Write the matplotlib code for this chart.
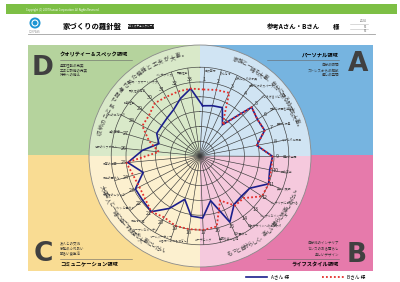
import numpy as np
import matplotlib.pyplot as plt
from matplotlib.patches import Rectangle, Wedge, Circle

plt.rcParams['font.family'] = ['Noto Sans CJK JP', 'DejaVu Sans']

# 33 items: A 1-9, B 10-17, C 18-25, D 26-33
item_no = list(range(1, 34))
item_names = [
    '自然素材', 'みんなで', 'お気に入りの家具', '自分だけのスペース', 'くつろげるリビング',
    '音楽と映画を楽しむ', '睡眠と休息', 'ゆったりお風呂', '癒しの空間',
    '光の演出', '美しい照明', 'インテリアにこだわる', 'シンプルなインテリア',
    '和風デザインへのこだわり', '和の暮らし', '季節を楽しむ庭', 'ガーデニング',
    'お客様へのおもてなし', 'ホームパーティー', 'オープンなキッチン', '家族で料理',
    'ペットと暮らす', '子育てのしやすさ', '家族の団らん', '家事の効率',
    '将来のリフォーム', '温熱環境', '収納のこだわり', '防犯性能',
    '耐久性の高さ', '省エネ・スマートハウス', 'メンテナンス', '耐震性能',
]
score_a = [3.4, 3.5, 3.6, 2.6, 4.8, 4.6, 4.7, 3.9, 4.9,
           4.8, 5.0, 4.0, 3.9, 4.0, 4.9, 3.1, 4.2,
           4.1, 3.1, 4.1, 5.0, 4.9, 4.9, 4.0, 4.9,
           3.9, 2.9, 3.3, 3.3, 3.4, 3.6, 4.1, 4.6]
score_b = [4.5, 4.6, 4.7, 2.6, 4.8, 4.6, 4.7, 3.9, 4.9,
           4.9, 5.0, 5.0, 4.1, 4.1, 3.3, 4.9, 5.0,
           5.0, 5.0, 4.8, 5.0, 4.7, 4.6, 4.7, 5.0,
           2.8, 3.6, 4.4, 4.4, 4.7, 4.6, 4.6, 4.6]
series_names = ['Aさん 様', 'Bさん 様']

zones = ['D', 'A', 'C', 'B']
zone_titles = ['クオリティー＆スペック領域', 'パーソナル領域', 'コミュニケーション領域', 'ライフスタイル領域']
zone_items = [['基本性能の充実', '工法と設備の充実', '将来への備え'],
              ['自分の時間', 'ストレスからの解放', '癒しの空間'],
              ['友人との交流', '家族のふれあい', '明るい食生活'],
              ['自分流のインテリア', 'センスのある暮らし', '楽しいデザイン']]
arc_texts = ['収納のことまで配慮された機能と工夫が大事。',
             '家族と一緒も大事、自分に戻る時間も大事。',
             '大切な人と一緒に過ごす時間を大事にしたい。',
             'もっと自分らしく、楽しい暮らしを楽しみたい。']

W, H = 400, 282
fig = plt.figure(figsize=(W / 100, H / 100), dpi=100)
bg = fig.add_axes([0, 0, 1, 1])
bg.set_xlim(0, W)
bg.set_ylim(H, 0)
bg.axis('off')

# header
bg.add_patch(Rectangle((6, 4), 391, 10, color='#7dbf45', lw=0))
bg.text(26, 9.5, 'Copyright (C) 2007 Kanuai Corporation. All Rights Reserved.',
        fontsize=1.9, color='white', va='center')
bg.add_patch(Circle((35, 23), 5.5, color='#1d95d3', lw=0))
bg.add_patch(Circle((35, 23), 3, fill=False, ec='white', lw=0.8))
bg.text(35, 32, 'COMPASS', fontsize=1.8, color='#888', ha='center', va='center')
bg.text(63, 26.5, '家づくりの羅針盤', fontsize=5.3, fontweight='bold', va='center')
bg.add_patch(Rectangle((128, 23.5), 26, 5.5, color='#222', lw=0))
bg.text(141, 26.3, '家づくりチェックシート', fontsize=1.9, color='white', ha='center', va='center')
bg.plot([28, 375], [33.5, 33.5], color='#a0a0a0', lw=0.6)
bg.text(320, 27, '参考Aさん・Bさん', fontsize=4.6, fontweight='bold', ha='right', va='center')
bg.text(333, 27, '様', fontsize=4.6, fontweight='bold', va='center')
for y, s in zip([21.5, 26.5, 31.5], ['2024', '05', '05']):
    bg.text(367, y, s, fontsize=2.2, color='#666', ha='right', va='center')
    bg.plot([350, 368], [y + 2, y + 2], color='#bbb', lw=0.4)

# quadrant panels
cx, cy = 200, 156
panel = {'D': (28, 45, 172, 110, '#b5d39d', '#d9e9c9'),
         'A': (200, 45, 173, 110, '#76b4e0', '#d0e4f3'),
         'C': (28, 155, 172, 116, '#f9dc93', '#fcf0cf'),
         'B': (200, 155, 173, 116, '#e67aab', '#f5c9dd')}
wedge_ang = {'D': (180, 270), 'A': (270, 360), 'C': (90, 180), 'B': (0, 90)}
for z in zones:
    x, y, w, h, c, light = panel[z]
    bg.add_patch(Rectangle((x, y), w, h, color=c, lw=0))
for z in zones:
    light = panel[z][5]
    a1, a2 = wedge_ang[z]
    bg.add_patch(Wedge((cx, cy), 111, a1, a2, color=light, lw=0))
bg.add_patch(Circle((cx, cy), 111, fill=False, ec='#8a8a8a', lw=0.6))

# zone letters and captions
letter_pos = {'D': (43, 68), 'A': (358, 64), 'C': (43, 254), 'B': (357, 255)}
for i, z in enumerate(zones):
    lx, ly = letter_pos[z]
    bg.text(lx, ly, z, fontsize=19, fontweight='bold', color='#404040',
            ha='center', va='center', family='DejaVu Sans')
    left = z in ('D', 'C')
    tx = 60 if left else 339
    ha = 'left' if left else 'right'
    top = z in ('D', 'A')
    if top:
        bg.text(tx, 55, zone_titles[i], fontsize=3.8, fontweight='bold', ha=ha, va='center')
        bg.plot([tx, tx + 72] if left else [tx - 72, tx], [60, 60], color='#666', lw=0.4)
        for j, s in enumerate(zone_items[i]):
            bg.text(tx, 65 + 5 * j, s, fontsize=2.5, color='#333', ha=ha, va='center')
    else:
        for j, s in enumerate(zone_items[i]):
            bg.text(tx, 243 + 5.5 * j, s, fontsize=2.5, color='#333', ha=ha, va='center')
        bg.plot([tx, tx + 72] if left else [tx - 72, tx], [259, 259], color='#666', lw=0.4)
        bg.text(tx, 264, zone_titles[i], fontsize=3.8, fontweight='bold', ha=ha, va='center')

# radar
unit = 14.8
rmax = 6
rad = rmax * unit
pax = fig.add_axes([(cx - rad) / W, (H - cy - rad) / H, 2 * rad / W, 2 * rad / H],
                   projection='polar')
pax.set_facecolor('none')
pax.set_theta_zero_location('N')
pax.set_theta_direction(-1)
theta = np.deg2rad(3 + (np.array(item_no) - 1) * 360 / len(item_no))
pax.set_xticks(theta)
pax.set_xticklabels([])
pax.set_yticks([1, 2, 3, 4, 5])
pax.set_yticklabels([])
pax.set_ylim(0, rmax)
pax.grid(color='#3a3a3a', lw=0.45)
pax.spines['polar'].set_color('#3a3a3a')
pax.spines['polar'].set_linewidth(0.45)
pax.tick_params(length=0)

th = np.append(theta, theta[0])
la, = pax.plot(th, score_a + score_a[:1], color='#1b1f8c', lw=1.2, label=series_names[0])
lb, = pax.plot(th, score_b + score_b[:1], color='#e3302c', lw=1.3,
               linestyle=(0, (1, 1.2)), label=series_names[1])

for t, k, name in zip(theta, item_no, item_names):
    pax.text(t, 5.2, str(k), fontsize=3.9, color='#333', ha='center', va='center')
    s, c = np.sin(t), np.cos(t)
    ha = 'left' if s > 0.05 else ('right' if s < -0.05 else 'center')
    va = 'bottom' if c > 0.3 else ('top' if c < -0.3 else 'center')
    pax.text(t, 5.6, name, fontsize=2.1, color='#444', ha=ha, va=va)

# curved captions
arc_span = [(283, 351, -1), (20, 73, -1), (252, 200, 1), (163, 109, 1)]
r_txt = 102 / unit
for s, (a0, a1, flip) in zip(arc_texts, arc_span):
    angs = np.linspace(a0, a1, len(s))
    for ch, a in zip(s, angs):
        rot = -a if flip < 0 else 180 - a
        pax.text(np.deg2rad(a), r_txt, ch, fontsize=4, color='#444', rotation=rot,
                 rotation_mode='anchor', ha='center', va='center')

fig.legend(handles=[la, lb], loc='center', bbox_to_anchor=(0.765, 1 - 277 / H),
           ncol=2, frameon=False, fontsize=3.4, handlelength=4.5, columnspacing=7,
           handletextpad=0.8)

fig.savefig('out.png', dpi=100)
